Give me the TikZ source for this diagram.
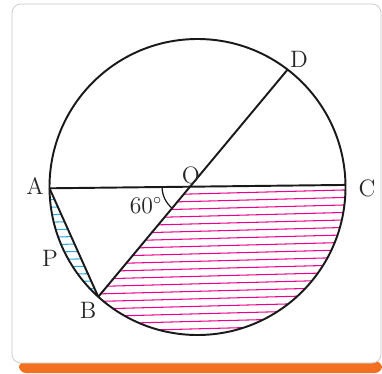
\documentclass[tikz,border=0pt]{standalone}
\usepackage{tikz}
\usetikzlibrary{calc,angles}
\definecolor{cardgrey}{HTML}{C8C8C8}
\definecolor{cardorange}{HTML}{F37021}
\definecolor{hatchpink}{HTML}{EC008C}
\definecolor{hatchblue}{HTML}{29ABE2}
\tikzset{
  edge/.style     = {line width=1.1pt, black!90},
  pinkline/.style = {hatchpink, line width=0.6pt},
  blueline/.style = {hatchblue, line width=0.6pt},
  lbl/.style      = {font=\fontsize{13.5}{15}\selectfont, inner sep=0pt, text=black!85},
}

\begin{document}
\begin{tikzpicture}[x=0.02cm,y=0.02cm]
  \useasboundingbox (0,0) rectangle (382,373);
  % card
  \fill[cardorange, rounded corners=4] (19,0) rectangle (382,12);
  \draw[cardgrey, fill=white, rounded corners=5] (12,10) rectangle (381,369);
  % points on the circle
  \coordinate (c) at (197.5,186);
  \coordinate (A) at ($(c)+(180.5:148)$);
  \coordinate (C) at ($(c)+(0.8:148)$);
  \coordinate (D) at ($(c)+(52.5:148)$);
  \coordinate (B) at ($(c)+(227.9:148)$);
  \coordinate (O) at (intersection of A--C and B--D);
  % pink hatch
  \begin{scope}
    \clip (O) -- (C) arc[start angle=0.8, end angle=-132.1, radius=148] -- cycle;
    \foreach \k in {0,...,21}
      \draw[pinkline] (0,{174-7.5*\k}) -- ++(400,10.5);
  \end{scope}
  % blue hatch
  \begin{scope}
    \clip (A) arc[start angle=180.5, end angle=227.9, radius=148] -- cycle;
    \foreach \k in {0,...,14}
      \draw[blueline] (0,{172-7.5*\k}) -- ++(400,10.5);
  \end{scope}
  % circle and chords
  \draw[edge] (c) circle[radius=148];
  \draw[edge] (A) -- (C);
  \draw[edge] (B) -- (D);
  \draw[edge] (A) -- (B);
  \pic[draw, black!90, line width=0.7pt, angle radius=0.56cm] {angle=A--O--B};
  % labels
  \node[lbl] (la) at (35,187) {A};
  \node[lbl] (lp) at (50,115) {P};
  \node[lbl] (lb) at (88,63) {B};
  \node[lbl] (lo) at (191,198) {O};
  \node[lbl] (lc) at (367,185) {C};
  \node[lbl] (ld) at (299,314) {D};
  \node[lbl] (lang) at (146,167) {60$^{\circ}$};
\end{tikzpicture}
\end{document}
